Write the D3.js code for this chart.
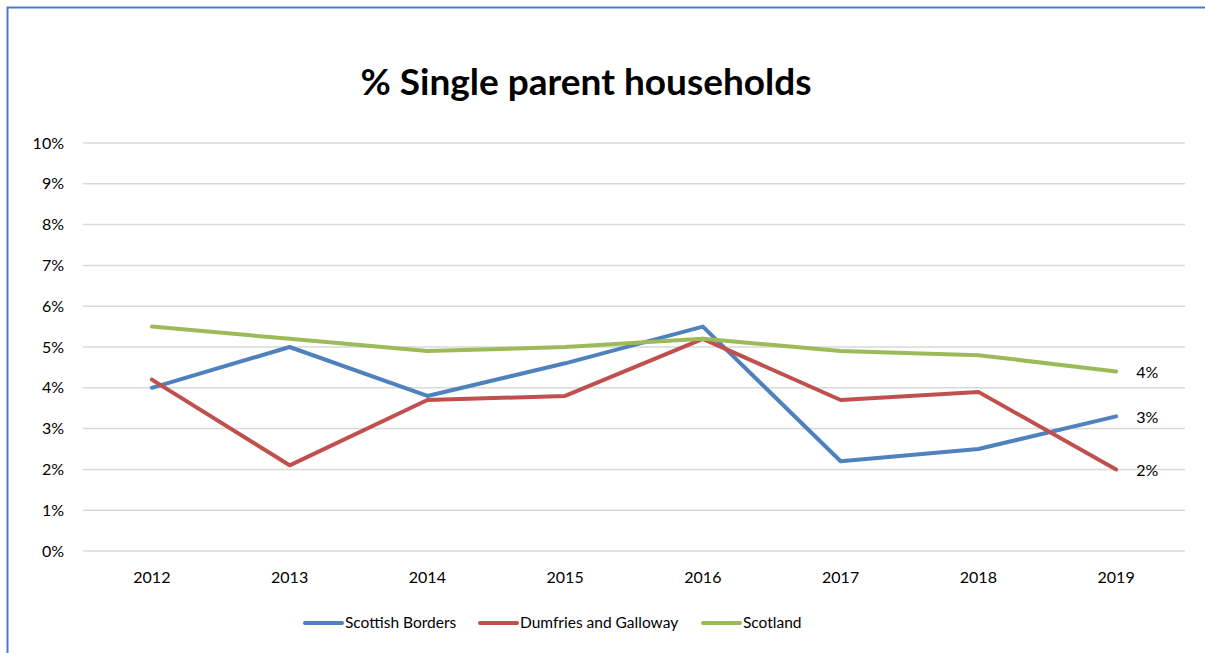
<!DOCTYPE html>
<html>
<head>
<script src="https://d3js.org/d3.v7.min.js"></script>
<style>
  body { margin: 0; background: #fff; }
  text { font-family: Lato, "Open Sans", sans-serif; fill: #000; }
</style>
</head>
<body>
<div id="chart"></div>
<script>
const years = ["2012", "2013", "2014", "2015", "2016", "2017", "2018", "2019"];
const borders = [4.0, 5.0, 3.8, 4.6, 5.5, 2.2, 2.5, 3.3];
const dumfries = [4.2, 2.1, 3.7, 3.8, 5.2, 3.7, 3.9, 2.0];
const scotland = [5.5, 5.2, 4.9, 5.0, 5.2, 4.9, 4.8, 4.4];
const seriesNames = ["Scottish Borders", "Dumfries and Galloway", "Scotland"];
const yTicks = [0, 1, 2, 3, 4, 5, 6, 7, 8, 9, 10];

const width = 1205, height = 653;
const colors = ["#4F81BD", "#C0504D", "#9BBB59"];
const series = [borders, dumfries, scotland];

const svg = d3.select("#chart").append("svg")
  .attr("width", width).attr("height", height);

// frame (only left and top edges visible in the picture)
svg.append("path")
  .attr("d", "M7.5,653 V7.5 H1205")
  .attr("fill", "none").attr("stroke", "#4A7CC8").attr("stroke-width", 2);

const x = d3.scaleBand().domain(years).range([83, 1185]);
const y = d3.scaleLinear().domain([0, 10]).range([551, 143]);

// gridlines
svg.append("g").selectAll("line").data(yTicks).enter().append("line")
  .attr("x1", 83).attr("x2", 1185)
  .attr("y1", d => y(d)).attr("y2", d => y(d))
  .attr("stroke", "#d9d9d9").attr("stroke-width", 1.5);

// y axis labels
svg.append("g").selectAll("text").data(yTicks).enter().append("text")
  .attr("x", 64).attr("y", d => y(d)).attr("dy", "0.35em")
  .attr("text-anchor", "end").attr("font-size", 16)
  .text(d => d + "%");

// x axis labels
svg.append("g").selectAll("text").data(years).enter().append("text")
  .attr("x", d => x(d) + x.bandwidth() / 2).attr("y", 583)
  .attr("text-anchor", "middle").attr("font-size", 16)
  .text(d => d);

// lines
const line = d3.line()
  .x((d, i) => x(years[i]) + x.bandwidth() / 2)
  .y(d => y(d));

series.forEach((s, k) => {
  svg.append("path").datum(s)
    .attr("fill", "none").attr("stroke", colors[k])
    .attr("stroke-width", 4).attr("stroke-linejoin", "round")
    .attr("stroke-linecap", "round")
    .attr("d", line);
});

// end labels
series.forEach((s, k) => {
  const last = s[s.length - 1];
  svg.append("text")
    .attr("x", x(years[years.length - 1]) + x.bandwidth() / 2 + 20)
    .attr("y", y(last)).attr("dy", "0.4em")
    .attr("font-size", 16)
    .text(Math.round(last) + "%");
});

// title
svg.append("text")
  .attr("x", 586).attr("y", 95)
  .attr("text-anchor", "middle").attr("font-size", 37).attr("font-weight", "bold")
  .text("% Single parent households");

// legend
const legendX = [305, 480, 703];
const lg = svg.append("g").selectAll("g").data(seriesNames).enter().append("g")
  .attr("transform", (d, i) => `translate(${legendX[i]},623)`);
lg.append("line")
  .attr("x1", 0).attr("x2", 37)
  .attr("stroke", (d, i) => colors[i]).attr("stroke-width", 4)
  .attr("stroke-linecap", "round");
lg.append("text")
  .attr("x", 40).attr("dy", "0.35em").attr("font-size", 15.5)
  .text(d => d);
</script>
</body>
</html>
